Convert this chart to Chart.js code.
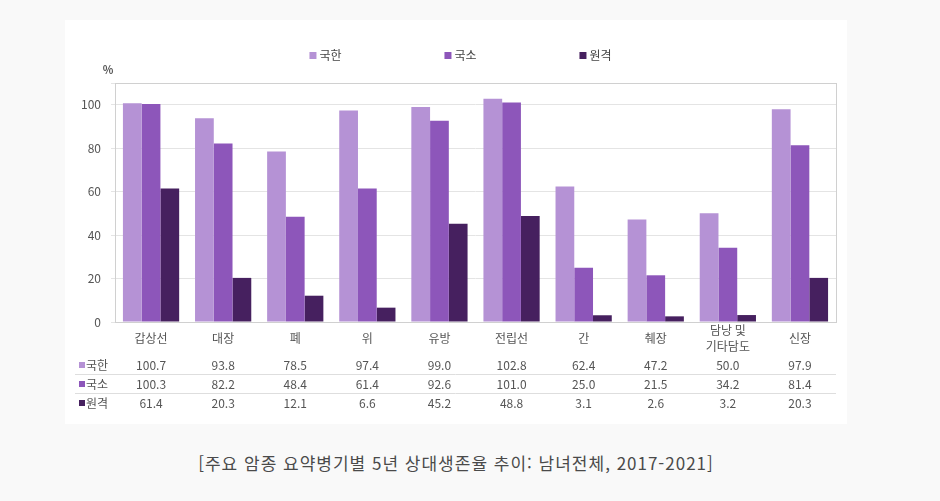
<!DOCTYPE html>
<html lang="ko">
<head>
<meta charset="utf-8">
<script src="https://cdn.jsdelivr.net/npm/chart.js@4"></script>
<style>
  html, body { margin: 0; padding: 0; background: #f9f9f9; }
  body { width: 940px; height: 501px; position: relative; overflow: hidden; font-family: "Noto Sans CJK KR", "Noto Sans", sans-serif; }
  #panel { position: absolute; left: 65px; top: 20px; width: 782px; height: 404px; background: #fff; }
  #caption { position: absolute; left: 0; width: 912px; top: 450px; text-align: center; font-size: 17px; letter-spacing: 1px; color: #4a4a4a; }
</style>
</head>
<body>
<div id="panel"><canvas id="chart" width="782" height="404"></canvas></div>
<div id="caption">[주요 암종 요약병기별 5년 상대생존율 추이: 남녀전체, 2017-2021]</div>
<script>
// 암종(카테고리)
const categories = ["갑상선", "대장", "폐", "위", "유방", "전립선", "간", "췌장", ["담낭 및", "기타담도"], "신장"];
// 요약병기별 값 (%)
const localized = [100.7, 93.8, 78.5, 97.4, 99.0, 102.8, 62.4, 47.2, 50.0, 97.9];
const regional = [100.3, 82.2, 48.4, 61.4, 92.6, 101.0, 25.0, 21.5, 34.2, 81.4];
const distant = [61.4, 20.3, 12.1, 6.6, 45.2, 48.8, 3.1, 2.6, 3.2, 20.3];
const seriesNames = ["국한", "국소", "원격"];
const seriesColors = ["#b592d5", "#8d56ba", "#46205f"];
const yTicks = [0, 20, 40, 60, 80, 100];

const seriesData = [localized, regional, distant];
const FONT = '"Noto Sans CJK KR", "Noto Sans", sans-serif';

// 범례, 축 아래 카테고리 이름, 데이터 표 그리기
const tablePlugin = {
  id: "dataTable",
  afterDraw(chart) {
    const ctx = chart.ctx;
    const x = chart.scales.x;
    const area = chart.chartArea;
    ctx.save();

    // 플롯 테두리
    ctx.strokeStyle = "#d0d0d0";
    ctx.lineWidth = 1;
    ctx.strokeRect(Math.round(area.left) + 0.5, Math.round(area.top) + 0.5,
      Math.round(area.right - area.left), Math.round(area.bottom - area.top));

    // 범례
    ctx.font = "12px " + FONT;
    ctx.textBaseline = "middle";
    ctx.textAlign = "left";
    const step = 135;
    const lastW = 11 + ctx.measureText(seriesNames[2]).width;
    let lx = chart.width / 2 - (step * 2 + lastW) / 2 + 5;
    seriesNames.forEach((name, i) => {
      ctx.fillStyle = seriesColors[i];
      ctx.fillRect(lx, 32, 7, 7);
      ctx.fillStyle = "#444";
      ctx.fillText(name, lx + 10, 35.5);
      lx += step;
    });

    // % 단위
    ctx.fillStyle = "#555";
    ctx.font = "bold 11px " + FONT;
    ctx.textAlign = "center";
    ctx.fillText("%", area.left - 7, area.top - 13);

    // 카테고리 이름
    ctx.font = "12px " + FONT;
    categories.forEach((c, i) => {
      const px = x.getPixelForValue(i);
      if (Array.isArray(c)) {
        c.forEach((line, k) => {
          ctx.fillText(line, px, area.bottom + 16 + (k - (c.length - 1) / 2) * 16);
        });
      } else {
        ctx.fillText(c, px, area.bottom + 16);
      }
    });

    // 표 행
    const rowY = [area.bottom + 43, area.bottom + 62, area.bottom + 81];
    seriesData.forEach((vals, r) => {
      ctx.fillStyle = seriesColors[r];
      ctx.fillRect(14, rowY[r] - 3, 6, 6);
      ctx.fillStyle = "#555";
      ctx.textAlign = "left";
      ctx.fillText(seriesNames[r], 21, rowY[r]);
      ctx.textAlign = "center";
      vals.forEach((v, i) => {
        ctx.fillText(v.toFixed(1), x.getPixelForValue(i), rowY[r]);
      });
    });

    // 행 구분선
    ctx.strokeStyle = "#dedede";
    [area.bottom + 52, area.bottom + 71].forEach(y => {
      ctx.beginPath();
      ctx.moveTo(10, y + 0.5);
      ctx.lineTo(area.right, y + 0.5);
      ctx.stroke();
    });
    ctx.restore();
  }
};

new Chart(document.getElementById("chart"), {
  type: "bar",
  data: {
    labels: categories,
    datasets: seriesNames.map((name, i) => ({
      label: name,
      data: seriesData[i],
      backgroundColor: seriesColors[i],
      borderWidth: 0,
      categoryPercentage: 0.78,
      barPercentage: 1.0
    }))
  },
  options: {
    responsive: false,
    animation: false,
    layout: { padding: { left: 10, right: 11, top: 63, bottom: 62 } },
    plugins: {
      legend: { display: false },
      tooltip: { enabled: false }
    },
    scales: {
      x: {
        grid: { display: false },
        border: { display: false },
        ticks: { display: false },
        afterFit: s => { s.height = 40; }
      },
      y: {
        min: 0,
        max: 110,
        afterBuildTicks: s => { s.ticks = yTicks.map(v => ({ value: v })).concat([{ value: 110 }]); },
        grid: { color: "#e4e4e4", tickLength: 4, drawTicks: true },
        border: { display: false },
        ticks: {
          color: "#555",
          padding: 10,
          font: { family: FONT, size: 12 },
          callback: v => (yTicks.includes(v) ? v : "")
        },
        afterFit: s => { s.width = 40; }
      }
    }
  },
  plugins: [tablePlugin]
});
</script>
</body>
</html>
